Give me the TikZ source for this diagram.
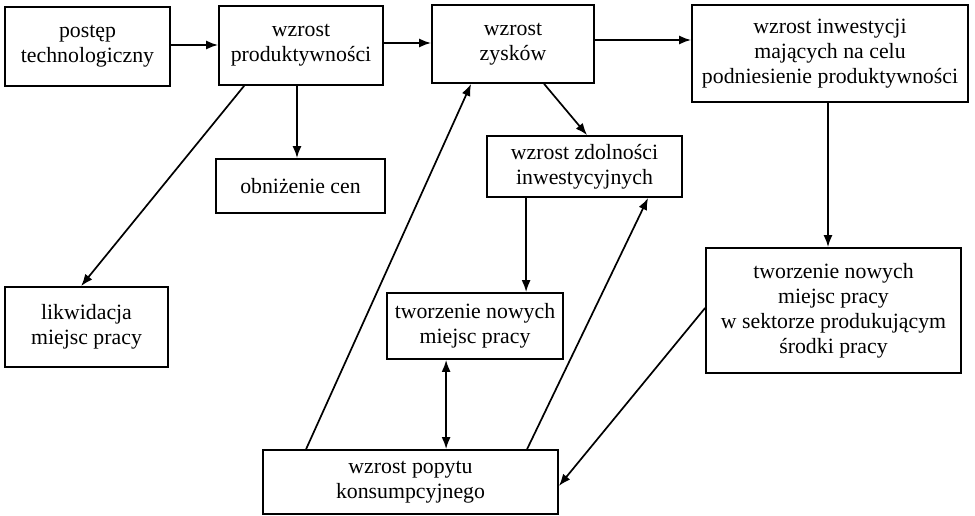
\documentclass[tikz,border=0pt]{standalone}
\usepackage{fontspec}
\setmainfont{Liberation Serif}
\newfontfamily\tnrfont{Liberation Serif}
\usetikzlibrary{arrows.meta}
\begin{document}
\begin{tikzpicture}[x=1pt,y=-1pt,
  box/.style={draw=black, line width=1.8pt, align=center, inner sep=0pt,
    font=\tnrfont\fontsize{21.8}{25}\selectfont},
  conn/.style={line width=1.7pt, -{Latex[length=12pt,width=9pt]}},
  conn2/.style={line width=1.7pt, {Latex[length=12pt,width=9pt]}-{Latex[length=12pt,width=9pt]}}]
\useasboundingbox (0,0) rectangle (975,516);
\newcommand{\bx}[6]{\node[box, minimum width=#4-#2, minimum height=#5-#3] (#1) at ({(#2+#4)/2},{(#3+#5)/2}) {#6};}
\bx{A}{5}{7}{170}{86}{postęp\\technologiczny}
\bx{B}{219}{6}{383}{85}{wzrost\\produktywności}
\bx{C}{432}{5}{594}{83}{wzrost\\zysków}
\bx{D}{692}{5}{968}{102}{wzrost inwestycji\\mających na celu\\podniesienie produktywności}
\bx{E}{216}{159}{385}{213}{obniżenie cen}
\bx{F}{487}{136}{682}{197}{wzrost zdolności\\inwestycyjnych}
\bx{G}{5}{287}{168}{367}{likwidacja\\miejsc pracy}
\bx{H}{387}{293}{563}{359}{tworzenie nowych\\miejsc pracy}
\bx{I}{706}{248}{961}{373}{tworzenie nowych\\miejsc pracy\\w sektorze produkującym\\środki pracy}
\bx{J}{263}{450}{558}{514}{wzrost popytu\\konsumpcyjnego}
\draw[conn] ([yshift=1.5pt]A.east) -- ([yshift=1.5pt]A.east -| B.west);
\draw[conn] ([yshift=2.5pt]B.east) -- ([yshift=2.5pt]B.east -| C.west);
\draw[conn] ([yshift=4pt]C.east) -- ([yshift=4pt]C.east -| D.west);
\draw[conn] ([xshift=26pt]B.south west) -- ([xshift=77pt]G.north west);
\draw[conn] ([xshift=-4pt]B.south) -- ([xshift=-4pt]B.south |- E.north);
\draw[conn] ([xshift=113pt]C.south west) -- ([xshift=101pt]F.north west);
\draw[conn] ([xshift=40pt]F.south west) -- ([xshift=40pt]F.south west |- H.north);
\draw[conn] ([xshift=-2pt]D.south) -- ([xshift=-2pt]D.south |- I.north);
\draw[conn] ([xshift=44pt]J.north west) -- ([xshift=40pt]C.south west);
\draw[conn] ([xshift=265pt]J.north west) -- ([xshift=162pt]F.south west);
\draw[conn] ([yshift=2.5pt]I.west) -- ([yshift=-4pt]J.east);
\draw[conn2] ([xshift=60pt]H.south west) -- ([xshift=60pt]H.south west |- J.north);
\end{tikzpicture}
\end{document}
